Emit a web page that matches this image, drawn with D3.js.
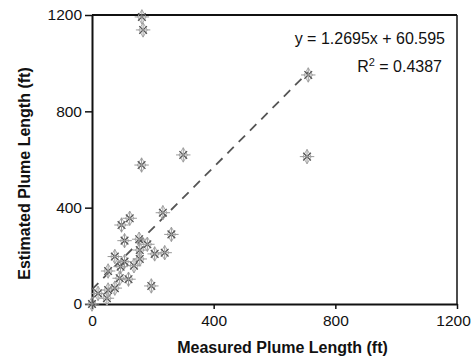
<!DOCTYPE html>
<html>
<head>
<meta charset="utf-8">
<script src="https://cdn.jsdelivr.net/npm/d3@7"></script>
<style>
  body { margin: 0; background: #fff; }
  svg { display: block; font-family: "Liberation Sans", Arial, sans-serif; }
</style>
</head>
<body>
<div id="chart"></div>
<script>
// measured vs estimated plume length (ft)
const measured  = [0, 20, 49, 53, 75, 91, 120, 53, 94, 138, 107, 157, 75, 206, 239, 157, 182, 107, 155, 261, 97, 124, 233, 195, 163, 300, 707, 711, 164, 168];
const estimated = [0, 44, 24, 58, 66, 107, 103, 137, 155, 159, 176, 187, 197, 208, 213, 224, 248, 263, 269, 289, 328, 356, 379, 75, 577, 619, 612, 951, 1192, 1138];
const ticks = [0, 400, 800, 1200];
const slope = 1.2695, intercept = 60.595;
const eqLabel = "y = 1.2695x + 60.595";
const r2Label = "0.4387";

const fullWidth = 471, fullHeight = 358;
const margin = {top: 15, right: 14, bottom: 54, left: 92},
  width = fullWidth - margin.left - margin.right,
  height = fullHeight - margin.top - margin.bottom;

const svg = d3.select("#chart").append("svg")
  .attr("width", fullWidth)
  .attr("height", fullHeight);

const g = svg.append("g")
  .attr("transform", "translate(" + margin.left + "," + margin.top + ")");

const x = d3.scaleLinear().domain([0, 1200]).range([0, width]);
const y = d3.scaleLinear().domain([0, 1200]).range([height, 0]);

// frame (top + right)
g.append("line").attr("x1", 0).attr("x2", width).attr("y1", 0).attr("y2", 0)
  .attr("stroke", "#111").attr("stroke-width", 2);
g.append("line").attr("x1", width).attr("x2", width).attr("y1", 0).attr("y2", height)
  .attr("stroke", "#111").attr("stroke-width", 1.5);

const xAxis = d3.axisBottom(x).tickValues(ticks).tickFormat(d3.format("d"))
  .tickSize(5).tickSizeOuter(0).tickPadding(6);
const yAxis = d3.axisLeft(y).tickValues(ticks).tickFormat(d3.format("d"))
  .tickSize(7).tickSizeOuter(0).tickPadding(3);

const gx = g.append("g").attr("transform", "translate(0," + height + ")").call(xAxis);
const gy = g.append("g").call(yAxis);

[gx, gy].forEach(a => {
  a.select(".domain").attr("stroke", "#111").attr("stroke-width", 2);
  a.selectAll(".tick line").attr("stroke", "#111").attr("stroke-width", 1.5);
  a.selectAll("text").attr("fill", "#111").style("font-size", "15.5px")
    .style("font-family", "'Liberation Sans', Arial, sans-serif");
});
// last x label sits tight against the page edge
gx.selectAll(".tick text").filter(d => d === 1200).attr("dx", -4);

// trend line
const trend = d3.line().x(d => x(d)).y(d => y(slope * d + intercept));
g.append("path")
  .datum([0, d3.max(measured)])
  .attr("fill", "none")
  .attr("stroke", "#555")
  .attr("stroke-width", 1.8)
  .attr("stroke-dasharray", "9,7")
  .attr("d", trend);

// markers: fuzzy asterisk-diamond
const pts = measured.map((m, i) => ({m: m, e: estimated[i]}));
const mk = g.selectAll("g.pt").data(pts).enter().append("g")
  .attr("class", "pt")
  .attr("transform", d => "translate(" + x(d.m) + "," + y(d.e) + ")");
mk.append("path")
  .attr("d", d3.symbol().type(d3.symbolDiamond).size(60))
  .attr("fill", "none").attr("stroke", "#aaa").attr("stroke-width", 1);
mk.append("path")
  .attr("d", d3.symbol().type(d3.symbolTimes).size(40))
  .attr("fill", "none").attr("stroke", "#555").attr("stroke-width", 1.3);
mk.append("path")
  .attr("d", d3.symbol().type(d3.symbolPlus).size(70))
  .attr("fill", "none").attr("stroke", "#999").attr("stroke-width", 1);

// equation
const eq = g.append("g").attr("fill", "#111").style("font-size", "16px");
eq.append("text").attr("x", 353).attr("y", 29).attr("text-anchor", "end").text(eqLabel);
const r2 = eq.append("text").attr("x", 350).attr("y", 57).attr("text-anchor", "end");
r2.append("tspan").text("R");
r2.append("tspan").attr("dy", -6).style("font-size", "11px").text("2");
r2.append("tspan").attr("dy", 6).text(" = " + r2Label);

// axis titles
svg.append("text")
  .attr("x", margin.left + width / 2 + 8)
  .attr("y", 353)
  .attr("text-anchor", "middle")
  .style("font-size", "16px").style("font-weight", "bold").attr("fill", "#111")
  .text("Measured Plume Length (ft)");

svg.append("text")
  .attr("transform", "translate(30," + (margin.top + height / 2 + 14) + ") rotate(-90)")
  .attr("text-anchor", "middle")
  .style("font-size", "16px").style("font-weight", "bold").attr("fill", "#111")
  .text("Estimated Plume Length (ft)");
</script>
</body>
</html>
